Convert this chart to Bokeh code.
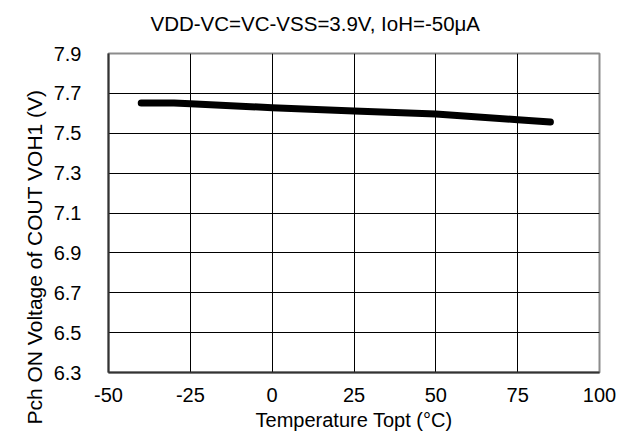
from bokeh.plotting import figure
from bokeh.models import FixedTicker, Range1d, NumeralTickFormatter, Title
from bokeh.embed import file_html
from bokeh.resources import INLINE

# Data
temperature = [-40, -30, -25, 0, 25, 50, 75, 85]
voh1 = [7.652, 7.652, 7.648, 7.628, 7.612, 7.597, 7.568, 7.556]

x_ticks = [-50, -25, 0, 25, 50, 75, 100]
y_ticks = [6.3, 6.5, 6.7, 6.9, 7.1, 7.3, 7.5, 7.7, 7.9]

title_text = "VDD-VC=VC-VSS=3.9V, IoH=-50\u03bcA"
x_label = "Temperature Topt (\u00b0C)"
y_label = "Pch ON Voltage of COUT VOH1 (V)"

FONT = "Liberation Sans"

W, H = 618, 436
FL, FR, FT, FB = 108, 599, 53, 372   # frame edges in page pixels

p = figure(width=W, height=H, output_backend="svg", toolbar_location=None,
           x_range=Range1d(-50, 100), y_range=Range1d(6.3, 7.9),
           min_border_left=FL, min_border_right=W - FR, min_border_top=FT,
           min_border_bottom=H - FB, title=title_text)

p.title.align = "left"
p.title.offset = 42
p.title.standoff = 0
p.title.text_font = FONT
p.title.text_font_size = "20.5px"
p.title.text_font_style = "normal"
p.title.text_color = "#000000"

# blank spacer between frame and title, lifting the title like the reference
spacer = Title(text="\u00a0", text_font_size="10px", standoff=6, text_color="#ffffff")
p.add_layout(spacer, "above")

p.line(temperature, voh1, line_width=7, line_color="#000000", line_cap="round", line_join="round")

p.xaxis.ticker = FixedTicker(ticks=x_ticks)
p.yaxis.ticker = FixedTicker(ticks=y_ticks)
p.xaxis.formatter = NumeralTickFormatter(format="0")
p.yaxis.formatter = NumeralTickFormatter(format="0.0")

for ax in (p.xaxis[0], p.yaxis[0]):
    ax.major_label_text_font = FONT
    ax.major_label_text_font_size = "20px"
    ax.major_label_text_color = "#000000"
    ax.axis_label_text_font = FONT
    ax.axis_label_text_font_size = "20px"
    ax.axis_label_text_font_style = "normal"
    ax.axis_label_text_color = "#000000"
    ax.axis_line_color = "#333333"
    ax.axis_line_width = 2
    ax.major_tick_line_color = None
    ax.minor_tick_line_color = None
    ax.major_tick_out = 0
    ax.major_tick_in = 0

p.xaxis.axis_label = x_label
p.xaxis.major_label_standoff = 15
p.yaxis.major_label_standoff = 27
p.xaxis.axis_label_standoff = 4

# vertical y title, shifted down like the reference (starts below the frame bottom)
ytitle = Title(text=y_label, align="left", offset=-52, standoff=10,
               text_font=FONT, text_font_size="21px", text_font_style="normal",
               text_color="#000000")
p.add_layout(ytitle, "left")

p.xgrid.grid_line_color = "#000000"
p.ygrid.grid_line_color = "#000000"
p.xgrid.grid_line_width = 1
p.ygrid.grid_line_width = 1

p.outline_line_color = "#8c8c8c"
p.outline_line_width = 2
p.background_fill_color = "#ffffff"
p.border_fill_color = "#ffffff"

open("out.html", "w").write(file_html(p, INLINE))
